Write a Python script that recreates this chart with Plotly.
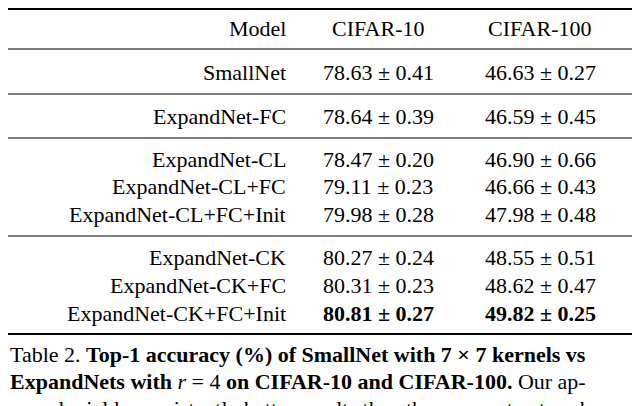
import plotly.graph_objects as go

header = ["Model", "CIFAR-10", "CIFAR-100"]
models = ["SmallNet", "ExpandNet-FC", "ExpandNet-CL", "ExpandNet-CL+FC", "ExpandNet-CL+FC+Init",
          "ExpandNet-CK", "ExpandNet-CK+FC", "ExpandNet-CK+FC+Init"]
c10 = ["78.63 ± 0.41", "78.64 ± 0.39", "78.47 ± 0.20", "79.11 ± 0.23", "79.98 ± 0.28",
       "80.27 ± 0.24", "80.31 ± 0.23", "80.81 ± 0.27"]
c100 = ["46.63 ± 0.27", "46.59 ± 0.45", "46.90 ± 0.66", "46.66 ± 0.43", "47.98 ± 0.48",
        "48.55 ± 0.51", "48.62 ± 0.47", "49.82 ± 0.25"]
bold_row = 7
row_y = [64, 108, 151, 178, 206, 249, 277, 305]
rules = [(1, 2), (41, 1), (86, 1), (130, 1), (228, 1), (326, 2)]
caption = [
    "Table 2. <b>Top-1 accuracy (%) of SmallNet with 7 × 7 kernels vs</b>",
    "<b>ExpandNets with</b> <i>r</i> = 4 <b>on CIFAR-10 and CIFAR-100.</b> Our ap-",
    "proach yields consistently better results than the compact network",
]

F = dict(family="Times New Roman, Liberation Serif, serif", size=22, color="black")
fig = go.Figure()
ann = []
ann.append(dict(x=280, y=20, text=header[0], xanchor="right"))
ann.append(dict(x=370, y=20, text=header[1], xanchor="center"))
ann.append(dict(x=532, y=20, text=header[2], xanchor="center"))
for i, (m, a, b) in enumerate(zip(models, c10, c100)):
    if i == bold_row:
        a, b = "<b>%s</b>" % a, "<b>%s</b>" % b
    ann.append(dict(x=280, y=row_y[i], text=m, xanchor="right"))
    ann.append(dict(x=370, y=row_y[i], text=a, xanchor="center"))
    ann.append(dict(x=532, y=row_y[i], text=b, xanchor="center"))
for j, t in enumerate(caption):
    ann.append(dict(x=0, y=346 + 27 * j, text=t, xanchor="left"))
for a in ann:
    a.update(xref="x", yref="y", showarrow=False, yanchor="middle", font=F)

shapes = [dict(type="line", x0=0, x1=640, y0=y, y1=y, xref="x", yref="y",
               line=dict(color="black", width=w)) for y, w in rules]

fig.update_layout(width=640, height=406, margin=dict(l=0, r=0, t=0, b=0),
                  paper_bgcolor="white", plot_bgcolor="white",
                  xaxis=dict(range=[0, 640], visible=False),
                  yaxis=dict(range=[406, 0], visible=False),
                  annotations=ann, shapes=shapes, showlegend=False)
fig.write_html("out.html")
